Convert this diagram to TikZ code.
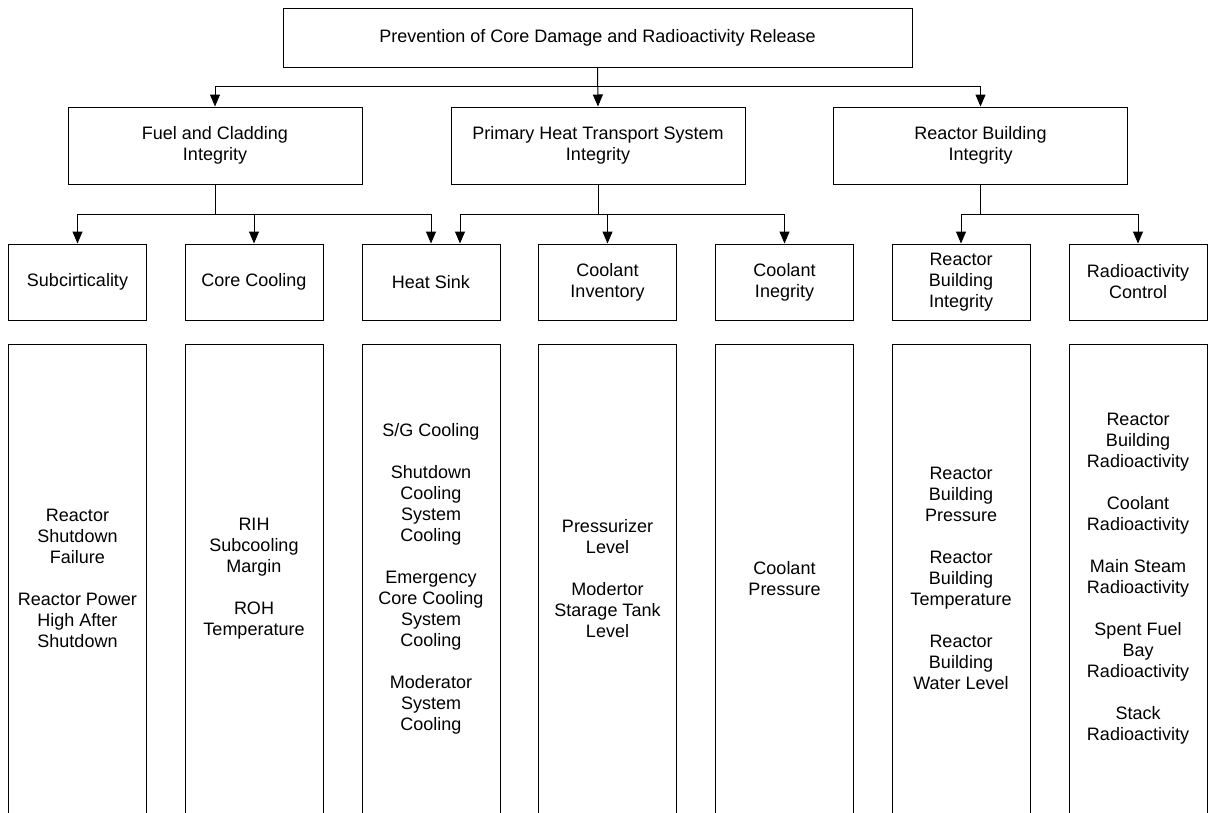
\documentclass[tikz,border=0pt]{standalone}
\usepackage{fontspec}
\setmainfont{Liberation Sans}
\usetikzlibrary{arrows.meta}
\begin{document}
\begin{tikzpicture}[x=1pt,y=-1pt,
    box/.style={draw,line width=1pt,align=center,inner sep=2pt,font=\fontsize{18}{21}\selectfont},
    goalbox/.style={box,minimum width=294pt,minimum height=77pt},
    funcbox/.style={box,minimum width=138pt,minimum height=76pt},
    parbox/.style={box,minimum width=138pt,minimum height=469pt},
    arr/.style={line width=1pt,-{Triangle[length=12pt,width=10pt]}}]
    \useasboundingbox (0,0) rectangle (1209,812);
    \clip (0,0) rectangle (1209,812);
    \node [box,minimum width=629pt,minimum height=59pt] (top) at (597.5,37.5) {Prevention of Core Damage and Radioactivity Release};
    \node [goalbox] (fuel) at (215,145.5) {Fuel and Cladding\\Integrity};
    \node [goalbox] (phts) at (598,145.5) {Primary Heat Transport System\\Integrity};
    \node [goalbox] (rbi) at (980.5,145.5) {Reactor Building\\Integrity};
    \node [funcbox] (subc) at (77.5,282) {Subcirticality};
    \node [funcbox] (corec) at (254,282) {Core Cooling};
    \node [funcbox] (hsink) at (431,282) {Heat Sink};
    \node [funcbox] (cinv) at (607.5,282) {Coolant\\Inventory};
    \node [funcbox] (cint) at (784.5,282) {Coolant\\Inegrity};
    \node [funcbox] (rbint) at (961,282) {Reactor\\Building\\Integrity};
    \node [funcbox] (radc) at (1138,282) {Radioactivity\\Control};
    \node [parbox] (subcpar) at (77.5,578.5) {Reactor\\Shutdown\\Failure\\[21pt]Reactor Power\\High After\\Shutdown};
    \node [parbox] (corecpar) at (254,578.5) {RIH\\Subcooling\\Margin\\[21pt]ROH\\Temperature};
    \node [parbox] (hsinkpar) at (431,578.5) {S/G Cooling\\[21pt]Shutdown\\Cooling\\System\\Cooling\\[21pt]Emergency\\Core Cooling\\System\\Cooling\\[21pt]Moderator\\System\\Cooling};
    \node [parbox] (cinvpar) at (607.5,578.5) {Pressurizer\\Level\\[21pt]Modertor\\Starage Tank\\Level};
    \node [parbox] (cintpar) at (784.5,578.5) {Coolant\\Pressure};
    \node [parbox] (rbintpar) at (961,578.5) {Reactor\\Building\\Pressure\\[21pt]Reactor\\Building\\Temperature\\[21pt]Reactor\\Building\\Water Level};
    \node [parbox] (radcpar) at (1138,578.5) {Reactor\\Building\\Radioactivity\\[21pt]Coolant\\Radioactivity\\[21pt]Main Steam\\Radioactivity\\[21pt]Spent Fuel\\Bay\\Radioactivity\\[21pt]Stack\\Radioactivity};
    \draw [arr] (top.south) -- ++(0,19) -| (fuel.north);
    \draw [arr] (top.south) -- (phts.north);
    \draw [arr] (top.south) -- ++(0,19) -| (rbi.north);
    \draw [arr] (fuel.south) -- ++(0,30) -| (subc.north);
    \draw [arr] (fuel.south) -- ++(0,30) -| (corec.north);
    \draw [arr] (fuel.south) -- ++(0,30) -| (hsink.north);
    \draw [arr] (phts.south) -- ++(0,30) -| ([xshift=29pt]hsink.north);
    \draw [arr] (phts.south) -- ++(0,30) -| (cinv.north);
    \draw [arr] (phts.south) -- ++(0,30) -| (cint.north);
    \draw [arr] (rbi.south) -- ++(0,30) -| (rbint.north);
    \draw [arr] (rbi.south) -- ++(0,30) -| (radc.north);
\end{tikzpicture}
\end{document}
